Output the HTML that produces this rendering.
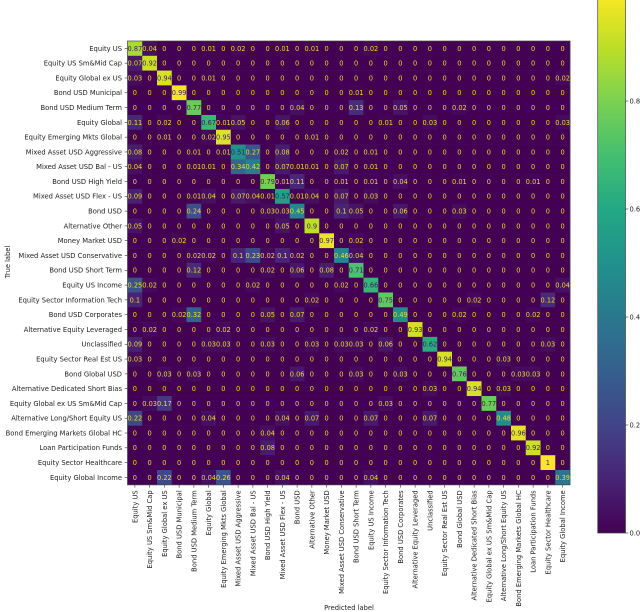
<!DOCTYPE html>
<html>
<head>
<meta charset="utf-8">
<title>Confusion matrix</title>
<style>
html,body{margin:0;padding:0;background:#fff;width:640px;height:612px;overflow:hidden}
svg{display:block;filter:blur(0.3px)}
text{font-family:"DejaVu Sans","Liberation Sans",sans-serif}
</style>
</head>
<body>
<svg id="chart" xmlns="http://www.w3.org/2000/svg" width="640" height="612" viewBox="0 0 640 612">
<defs><linearGradient id="cbgrad" gradientUnits="userSpaceOnUse" x1="0" x2="0" y1="533" y2="-7"></linearGradient></defs>
<text x="0" y="0" transform="translate(8,262) rotate(-90)" font-size="6.7" text-anchor="middle" dominant-baseline="central" fill="#222">True label</text>
<text x="349" y="610" font-size="6.7" text-anchor="middle" fill="#222">Predicted label</text>
</svg>
<script>
const categories = ["Equity US","Equity US Sm&Mid Cap","Equity Global ex US","Bond USD Municipal","Bond USD Medium Term","Equity Global","Equity Emerging Mkts Global","Mixed Asset USD Aggressive","Mixed Asset USD Bal - US","Bond USD High Yield","Mixed Asset USD Flex - US","Bond USD","Alternative Other","Money Market USD","Mixed Asset USD Conservative","Bond USD Short Term","Equity US Income","Equity Sector Information Tech","Bond USD Corporates","Alternative Equity Leveraged","Unclassified","Equity Sector Real Est US","Bond Global USD","Alternative Dedicated Short Bias","Equity Global ex US Sm&Mid Cap","Alternative Long/Short Equity US","Bond Emerging Markets Global HC","Loan Participation Funds","Equity Sector Healthcare","Equity Global Income"];
const matrixValues = [
[.87,.04,0,0,0,.01,0,.02,0,0,.01,0,.01,0,0,0,.02,0,0,0,0,0,0,0,0,0,0,0,0,0],
[.07,.92,0,0,0,0,0,0,0,0,0,0,0,0,0,0,0,0,0,0,0,0,0,0,0,0,0,0,0,0],
[.03,0,.94,0,0,.01,0,0,0,0,0,0,0,0,0,0,0,0,0,0,0,0,0,0,0,0,0,0,0,.02],
[0,0,0,.99,0,0,0,0,0,0,0,0,0,0,0,.01,0,0,0,0,0,0,0,0,0,0,0,0,0,0],
[0,0,0,0,.77,0,0,0,0,0,0,.04,0,0,0,.13,0,0,.05,0,0,0,.02,0,0,0,0,0,0,0],
[.11,0,.02,0,0,.67,.01,.05,0,0,.06,0,0,0,0,0,0,.01,0,0,.03,0,0,0,0,0,0,0,0,.03],
[0,0,.01,0,0,.02,.95,0,0,0,0,0,.01,0,0,0,0,0,0,0,0,0,0,0,0,0,0,0,0,0],
[.08,0,0,0,.01,0,.01,.51,.27,0,.08,0,0,0,.02,0,.01,0,0,0,0,0,0,0,0,0,0,0,0,0],
[.04,0,0,0,.01,.01,0,.34,.42,0,.07,.01,.01,0,.07,0,.01,0,0,0,0,0,0,0,0,0,0,0,0,0],
[0,0,0,0,0,0,0,0,0,.79,.01,.11,0,0,.01,0,.01,0,.04,0,0,0,.01,0,0,0,0,.01,0,0],
[.09,0,0,0,.01,.04,0,.07,.04,.01,.57,.01,.04,0,.07,0,.03,0,0,0,0,0,0,0,0,0,0,0,0,0],
[0,0,0,0,.24,0,0,0,0,.03,.03,.45,0,0,.1,.05,0,0,.06,0,0,0,.03,0,0,0,0,0,0,0],
[.05,0,0,0,0,0,0,0,0,0,.05,0,.9,0,0,0,0,0,0,0,0,0,0,0,0,0,0,0,0,0],
[0,0,0,.02,0,0,0,0,0,0,0,0,0,.97,0,.02,0,0,0,0,0,0,0,0,0,0,0,0,0,0],
[0,0,0,0,.02,.02,0,.1,.23,.02,.1,.02,0,0,.46,.04,0,0,0,0,0,0,0,0,0,0,0,0,0,0],
[0,0,0,0,.12,0,0,0,0,.02,0,.06,0,.08,0,.71,0,0,0,0,0,0,0,0,0,0,0,0,0,0],
[.25,.02,0,0,0,0,0,0,.02,0,0,0,0,0,.02,0,.66,0,0,0,0,0,0,0,0,0,0,0,0,.04],
[.1,0,0,0,0,0,0,0,0,0,0,0,.02,0,0,0,0,.75,0,0,0,0,0,.02,0,0,0,0,.12,0],
[0,0,0,.02,.32,0,0,0,0,.05,0,.07,0,0,0,0,0,0,.49,0,0,0,.02,0,0,0,0,.02,0,0],
[0,.02,0,0,0,0,.02,0,0,0,0,0,0,0,0,0,.02,0,0,.93,0,0,0,0,0,0,0,0,0,0],
[.09,0,0,0,0,.03,.03,0,0,.03,0,0,.03,0,.03,.03,0,.06,0,0,.62,0,0,0,0,0,0,0,.03,0],
[.03,0,0,0,0,0,0,0,0,0,0,0,0,0,0,0,0,0,0,0,0,.94,0,0,0,.03,0,0,0,0],
[0,0,.03,0,.03,0,0,0,0,0,0,.06,0,0,0,.03,0,0,.03,0,0,0,.76,0,0,0,.03,.03,0,0],
[0,0,0,0,0,0,0,0,0,0,0,0,0,0,0,0,0,0,0,0,.03,0,0,.94,0,.03,0,0,0,0],
[0,.03,.17,0,0,0,0,0,0,0,0,0,0,0,0,0,0,.03,0,0,0,0,0,0,.77,0,0,0,0,0],
[.22,0,0,0,0,.04,0,0,0,0,.04,0,.07,0,0,0,.07,0,0,0,.07,0,0,0,0,.48,0,0,0,0],
[0,0,0,0,0,0,0,0,0,.04,0,0,0,0,0,0,0,0,0,0,0,0,0,0,0,0,.96,0,0,0],
[0,0,0,0,0,0,0,0,0,.08,0,0,0,0,0,0,0,0,0,0,0,0,0,0,0,0,0,.92,0,0],
[0,0,0,0,0,0,0,0,0,0,0,0,0,0,0,0,0,0,0,0,0,0,0,0,0,0,0,0,1,0],
[0,0,.22,0,0,.04,.26,0,0,0,.04,0,0,0,0,0,.04,0,0,0,0,0,0,0,0,0,0,0,0,.39]
];
const colorbarTicks = ["0.0","0.2","0.4","0.6","0.8"];
const viridisStops = ["#440154","#482475","#414487","#355f8d","#2a788e","#21918c","#22a884","#44bf70","#7ad151","#bddf26","#fde725"];

const NS = "http://www.w3.org/2000/svg";
const svg = document.getElementById("chart");
const plot = {left:127.5, right:570, top:41, bottom:484.8};
const bar = {left:597.7, right:625.5, zero:533, perUnit:540};
const cellW = (plot.right - plot.left) / categories.length;
const cellH = (plot.bottom - plot.top) / categories.length;
function xScale(i){ return plot.left + i * cellW; }
function yScale(i){ return plot.top + i * cellH; }
function barScale(v){ return bar.zero - v * bar.perUnit; }
function hexToRgb(h){ return [1,3,5].map(p => parseInt(h.substr(p,2),16)); }
function viridis(v){
  const t = Math.max(0, Math.min(1, v)) * (viridisStops.length - 1);
  const k = Math.min(Math.floor(t), viridisStops.length - 2);
  const a = hexToRgb(viridisStops[k]), b = hexToRgb(viridisStops[k+1]), f = t - k;
  return "rgb(" + a.map((c,n) => Math.round(c + (b[n]-c)*f)).join(",") + ")";
}
function make(tag, attrs, parent){
  const el = document.createElementNS(NS, tag);
  for (const k in attrs) el.setAttribute(k, attrs[k]);
  (parent || svg).appendChild(el);
  return el;
}

const cellLayer = make("g", {});


const textLayer = make("g", {"font-size":6.6,"text-anchor":"middle"});



matrixValues.forEach((row, r) => {
  row.forEach((v, c) => {
    const cell = make("rect", {x:xScale(c), y:yScale(r), width:cellW+0.3, height:cellH+0.3, fill:viridis(v)}, cellLayer);
    
    
    const label = make("text", {x:xScale(c)+cellW/2, y:yScale(r)+cellH/2+2.4, fill: v < 0.5 ? "#f3dc2c" : "#3b1c5e"}, textLayer);
    
    
    label.textContent = String(v);
  });
});

const frame = make("rect", {x:plot.left, y:plot.top, width:plot.right-plot.left, height:plot.bottom-plot.top, fill:"none", stroke:"#444", "stroke-width":0.7});



categories.forEach((name, i) => {
  const yTick = make("line", {x1:plot.left-2.8, x2:plot.left, y1:yScale(i)+cellH/2, y2:yScale(i)+cellH/2, stroke:"#333", "stroke-width":0.6});
  
  
  const yLabel = make("text", {x:plot.left-5.5, y:yScale(i)+cellH/2+2.4, "font-size":6.75, "text-anchor":"end", fill:"#222"});
  
  
  yLabel.textContent = name;
  const xTick = make("line", {x1:xScale(i)+cellW/2, x2:xScale(i)+cellW/2, y1:plot.bottom, y2:plot.bottom+2.8, stroke:"#333", "stroke-width":0.6});
  
  
  const xLabel = make("text", {transform:"translate("+(xScale(i)+cellW/2+2.4)+","+(plot.bottom+5.5)+") rotate(-90)", "font-size":6.75, "text-anchor":"end", fill:"#222"});
  
  
  xLabel.textContent = name;
});

const grad = document.getElementById("cbgrad");
viridisStops.forEach((col, i) => {
  make("stop", {offset: i/(viridisStops.length-1), "stop-color": col}, grad);
});
const cbar = make("rect", {x:bar.left, y:barScale(1), width:bar.right-bar.left, height:barScale(0)-barScale(1), fill:"url(#cbgrad)", stroke:"#444", "stroke-width":0.7});


colorbarTicks.forEach(t => {
  const y = barScale(parseFloat(t));
  const tick = make("line", {x1:bar.right, x2:bar.right+2.8, y1:y, y2:y, stroke:"#333", "stroke-width":0.6});
  
  
  const lab = make("text", {x:bar.right+4, y:y+2.4, "font-size":6.7, fill:"#222"});
  
  
  lab.textContent = t;
});
</script>
</body>
</html>
